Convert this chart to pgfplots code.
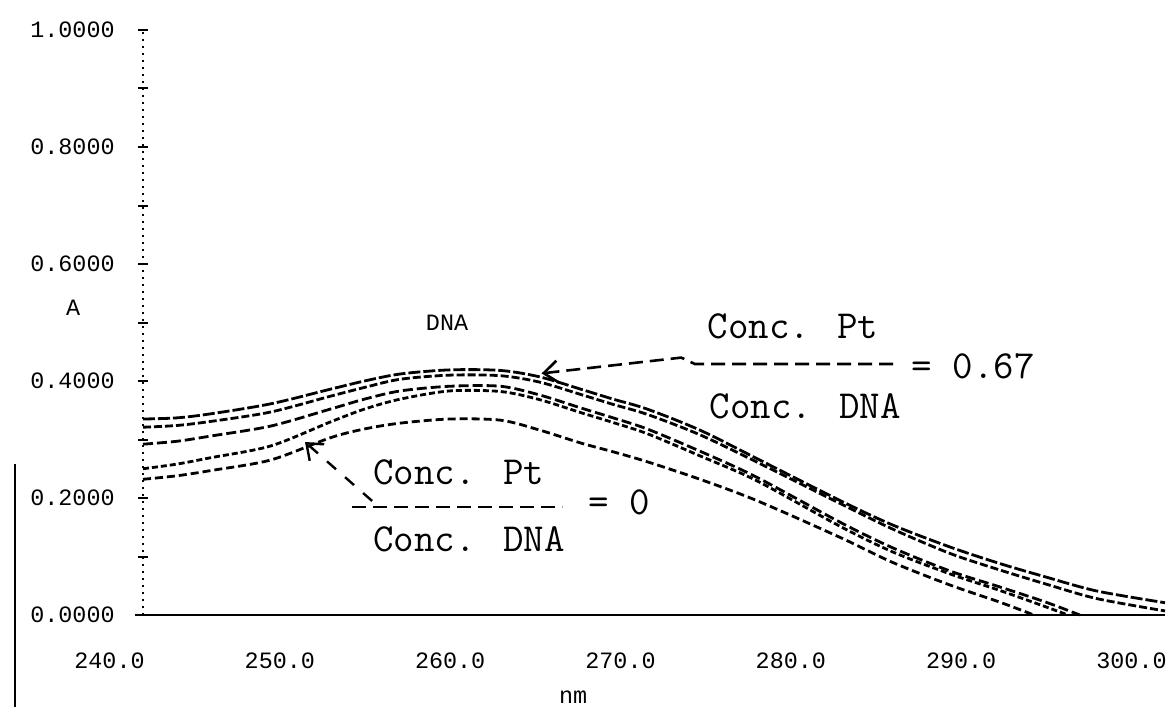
\documentclass[border=0pt]{standalone}
\usepackage{pgfplots}
\pgfplotsset{compat=1.18}
\usepackage{fontspec}
\usetikzlibrary{arrows.meta}
\newfontfamily\dotfont{Liberation Mono}
\newcommand{\tickf}{\dotfont\fontsize{11.7}{13}\selectfont}
\newcommand{\annf}{\ttfamily\fontsize{19.9}{24}\selectfont}
\begin{document}
\begin{tikzpicture}
\begin{axis}[
  name=ax,
  scale only axis,
  width=511pt, height=292.5pt,
  xmin=240, xmax=300, ymin=0, ymax=1,
  clip=false,
  axis lines=left,
  x axis line style={-, line width=1.4pt, shorten <=-4pt},
  y axis line style={-, line width=0.9pt, dash pattern=on 1pt off 2.5pt},
  xtick={240,250,260,270,280,290,300},
  xticklabels={240.0,250.0,260.0,270.0,280.0,290.0,300.0},
  ytick={0,0.2,0.4,0.6,0.8,1.0},
  yticklabels={0.0000,0.2000,0.4000,0.6000,0.8000,1.0000},
  minor ytick={0.1,0.3,0.5,0.7,0.9},
  tick align=center,
  major tick length=5pt, minor tick length=5pt,
  ytick style={line width=1pt, black},
  minor tick style={line width=1pt, black},
  xtick style={draw=none},
  xticklabel style={font=\tickf, anchor=north east, inner sep=0pt, yshift=-16pt, xshift=1pt},
  yticklabel style={font=\tickf, anchor=east, inner sep=0pt, xshift=-11.5pt},
  /pgf/number format/assume math mode=true,
]
% C1 (ratio 0.67, top)
\addplot[black, line width=1.4pt, smooth, tension=0.5, dash pattern=on 6pt off 1.5pt] coordinates {
(240.0,0.335) (242.0,0.337) (244.0,0.344) (247.5,0.361) (251.0,0.386) (253.0,0.400)
(255.1,0.412) (258.0,0.419) (261.0,0.418) (263.3,0.407) (265.7,0.386) (267.6,0.369)
(269.6,0.352) (272.7,0.316) (276.0,0.268) (280.9,0.196) (284.0,0.154) (287.4,0.116)
(290.3,0.088) (293.0,0.065) (296.0,0.041) (300.0,0.021)};
% C2
\addplot[black, line width=1.4pt, smooth, tension=0.5, dash pattern=on 4pt off 1.5pt] coordinates {
(240.0,0.321) (242.0,0.324) (244.0,0.331) (247.5,0.347) (251.0,0.374) (253.0,0.389)
(255.1,0.403) (258.0,0.410) (261.0,0.409) (263.3,0.398) (265.7,0.377) (267.6,0.360)
(269.6,0.343) (272.7,0.308) (276.0,0.262) (280.9,0.191) (284.0,0.147) (287.4,0.105)
(290.3,0.077) (293.0,0.053) (296.0,0.028) (300.0,0.007)};
% C3
\addplot[black, line width=1.4pt, smooth, tension=0.5, dash pattern=on 5pt off 2pt] coordinates {
(240.0,0.292) (242.0,0.297) (244.0,0.306) (247.5,0.323) (251.0,0.352) (253.0,0.369)
(255.1,0.383) (258.0,0.391) (261.0,0.391) (263.3,0.376) (265.7,0.354) (267.6,0.337)
(269.6,0.318) (272.7,0.280) (276.0,0.236) (280.9,0.159) (284.0,0.115) (287.4,0.075)
(290.3,0.048) (293.0,0.022) (295.0,0.000)};
% C4
\addplot[black, line width=1.4pt, smooth, tension=0.5, dash pattern=on 3pt off 1.5pt] coordinates {
(240.0,0.250) (242.0,0.258) (244.0,0.269) (247.5,0.289) (251.0,0.330) (253.0,0.352)
(255.1,0.369) (258.0,0.383) (261.0,0.382) (263.3,0.368) (265.7,0.346) (267.6,0.329)
(269.6,0.310) (272.7,0.272) (276.0,0.230) (280.9,0.152) (284.0,0.108) (287.4,0.070)
(290.3,0.042) (293.0,0.014) (294.3,0.000)};
% C5 (ratio 0, lowest)
\addplot[black, line width=1.4pt, smooth, tension=0.5, dash pattern=on 4pt off 2pt] coordinates {
(240.0,0.232) (242.0,0.238) (244.0,0.247) (247.5,0.265) (251.0,0.303) (253.0,0.318)
(255.1,0.328) (258.0,0.335) (261.0,0.333) (263.3,0.316) (265.7,0.294) (267.6,0.279)
(269.6,0.262) (272.7,0.232) (276.0,0.196) (280.9,0.133) (284.0,0.090) (287.4,0.051)
(290.3,0.022) (292.3,0.000)};

% labels
\node[font=\tickf, anchor=center] at (axis cs:235.9,0.525) {A};
\node[font=\tickf, anchor=center] at (axis cs:257.85,0.499) {DNA};
\node[font=\tickf, anchor=center] at (axis cs:265.25,-0.140) {nm};

% lower annotation
\node[font=\annf, anchor=west, inner sep=0pt] at (axis cs:253.5,0.244) {Conc. Pt};
\draw[black, line width=1.3pt, dash pattern=on 7pt off 3.5pt] (axis cs:252.27,0.1846) -- (axis cs:264.6,0.1846);
\node[font=\annf, anchor=west, inner sep=0pt] at (axis cs:266.13,0.193) {= 0};
\node[font=\annf, anchor=west, inner sep=0pt] at (axis cs:253.5,0.130) {Conc. DNA};
\draw[black, line width=1.2pt, dash pattern=on 6pt off 6pt, -{Straight Barb[length=7pt,width=11pt]}] (axis cs:253.45,0.195) -- (axis cs:249.51,0.2957);

% upper annotation
\node[font=\annf, anchor=west, inner sep=0pt] at (axis cs:273.12,0.494) {Conc. Pt};
\draw[black, line width=1.3pt, dash pattern=on 7pt off 3.5pt, -{Straight Barb[length=7pt,width=11pt]}] (axis cs:284.04,0.429) -- (axis cs:272.4,0.429) -- (axis cs:271.6,0.440) -- (axis cs:263.4,0.413);
\node[font=\annf, anchor=west, inner sep=0pt] at (axis cs:285.1,0.4256) {= 0.67};
\node[font=\annf, anchor=west, inner sep=0pt] at (axis cs:273.24,0.357) {Conc. DNA};

% scan edge line at far left
\draw[black, line width=1.2pt] ([xshift=-64pt,yshift=75.5pt]rel axis cs:0,0) -- ([xshift=-64pt,yshift=-46pt]rel axis cs:0,0);
\end{axis}
\pgfresetboundingbox
\path[use as bounding box] ([xshift=-71.5pt,yshift=-46pt]ax.south west) rectangle ([xshift=5.5pt,yshift=15pt]ax.north east);
\end{tikzpicture}
\end{document}
